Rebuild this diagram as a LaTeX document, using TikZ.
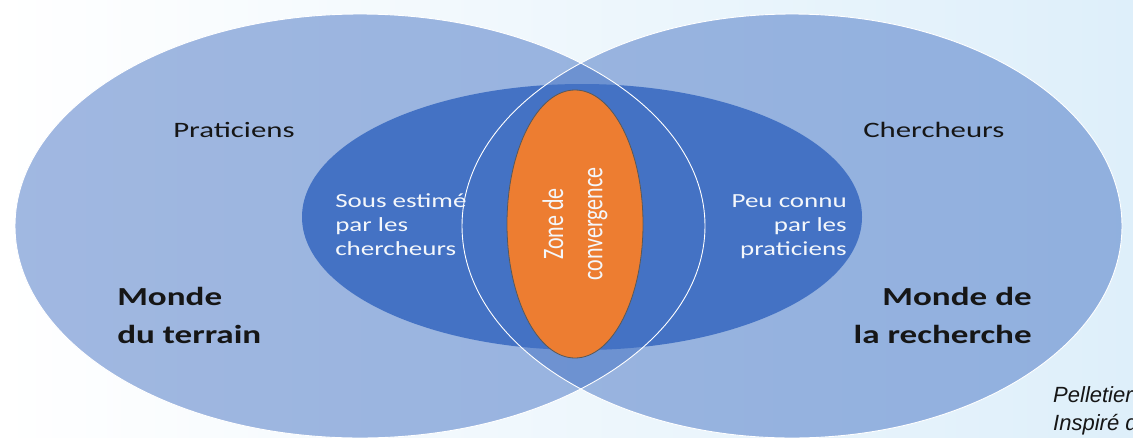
\documentclass[tikz,border=0pt]{standalone}
\usepackage{fontspec}
\setmainfont{Carlito}
\newfontfamily\refsans{Liberation Sans}
\definecolor{bgblue}{RGB}{222,239,250}
\definecolor{venblue}{RGB}{68,114,196}
\definecolor{venorange}{RGB}{237,125,49}
\definecolor{inkdark}{RGB}{22,22,22}
\tikzset{%
	world/.style    = {fill=venblue, fill opacity=0.5}, % big ellipses
	rim/.style      = {draw=white, line width=0.9pt}, % outlines
	actor/.style    = {inner sep=0pt, xscale=1.4, text=inkdark, font=\fontsize{22}{26}\selectfont}, % Praticiens
	note/.style     = {inner sep=0pt, xscale=1.35, text=white!94!venblue, font=\fontsize{20}{24}\selectfont}, % inner texts
	big/.style      = {inner sep=0pt, xscale=1.35, text=inkdark, font=\bfseries\fontsize{26}{38}\selectfont}, % Monde
}
\begin{document}
\begin{tikzpicture}[x=1pt, y=-1pt]
		\useasboundingbox (0,0) rectangle (1133,437);
		\clip (0,0) rectangle (1133,437);
		\shade[left color=white, right color=bgblue] (0,0) rectangle (1133,437);
		\coordinate (terrain) at (360,226);
		\coordinate (recherche) at (792,226);
		\coordinate (pont) at (582,217);
		\coordinate (zone) at (575,224);
		\fill[world] (terrain) ellipse [x radius=345pt, y radius=212pt];
		\fill[world] (recherche) ellipse [x radius=330pt, y radius=212pt];
		\fill[venblue] (pont) ellipse [x radius=280pt, y radius=133pt];
		\draw[rim] (terrain) ellipse [x radius=345pt, y radius=212pt];
		\draw[rim] (recherche) ellipse [x radius=330pt, y radius=212pt];
		\draw[fill=venorange, draw=black!65, line width=0.8pt] (zone) ellipse [x radius=68pt, y radius=134pt];
		\node[actor, anchor=base west] (prat) at (173,137) {Praticiens};
		\node[actor, anchor=base west] (cherch) at (863,137) {Chercheurs};
		% multi-line nodes sit on their last line
		\node[note, align=left, anchor=base west] (sous) at (335,255) {Sous estimé\\par les\\chercheurs};
		\node[note, align=right, anchor=base east] (peu) at (847,255) {Peu connu\\par les\\praticiens};
		\node[inner sep=0pt, text=white!94!venblue, align=center, font=\fontsize{22}{29}\selectfont, xscale=1.35, rotate=90] (conv) at (zone) {Zone de\\convergence};
		\node[big, align=left, anchor=base west] (mterrain) at (117,343) {Monde\\du terrain};
		\node[big, align=right, anchor=base east] (mrecherche) at (1032,343) {Monde de\\la recherche};
		\node[inner sep=0pt, align=left, anchor=base west, text=inkdark, font=\refsans\itshape\fontsize{22}{28}\selectfont] (source) at (1053,430) {Pelletier\\Inspiré de};
		\end{tikzpicture}
\end{document}
